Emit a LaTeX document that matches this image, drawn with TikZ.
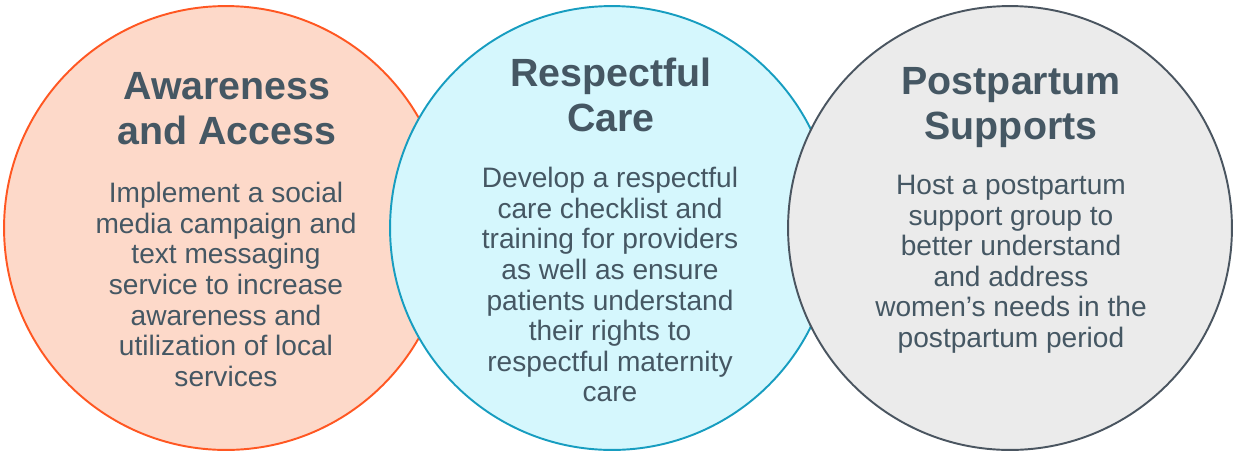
\documentclass[tikz,border=0pt]{standalone}
\usepackage{fontspec}
\setmainfont{Liberation Sans}
\usetikzlibrary{positioning}
\definecolor{c1}{RGB}{255,87,34}
\definecolor{c1bg}{RGB}{253,217,201}
\definecolor{c2}{RGB}{23,157,192}
\definecolor{c2bg}{RGB}{213,247,253}
\definecolor{c3}{RGB}{74,85,96}
\definecolor{c3bg}{RGB}{235,235,235}
\definecolor{ink}{RGB}{69,87,99}

\begin{document}
\begin{tikzpicture}[x=0.02cm, y=-0.02cm,
    disc/.style={circle, draw, line width=1.1pt, minimum size=8.88cm, inner sep=0pt},
    head/.style={anchor=north, align=center, inner sep=0pt, text=ink, font=\fontsize{22.4}{25.5}\selectfont\bfseries},
    body/.style={anchor=north, align=center, inner sep=0pt, text=ink, font=\fontsize{16}{17.4}\selectfont}
]
    \useasboundingbox (0,0) rectangle (1235,454);

    % Circles, drawn left to right so each overlaps the previous one
    \node[disc, draw=c1, fill=c1bg] (aware) at (226,228) {};
    \node[disc, draw=c2, fill=c2bg] (care) at (612,228) {};
    \node[disc, draw=c3, fill=c3bg] (post) at (1010,228) {};

    % Awareness and Access
    \node[head] (awareT) at (227,72) {Awareness\\and Access};
    \node[body] (awareB) at (226,182) {Implement a social\\media campaign and\\text messaging\\service to increase\\awareness and\\utilization of local\\services};

    % Respectful Care
    \node[head] (careT) at (611,58) {Respectful\\Care};
    \node[body] (careB) at (610,167) {Develop a respectful\\care checklist and\\training for providers\\as well as ensure\\patients understand\\their rights to\\respectful maternity\\care};

    % Postpartum Supports
    \node[head] (postT) at (1011,67) {Postpartum\\Supports};
    \node[body] (postB) at (1011,175) {Host a postpartum\\support group to\\better understand\\and address\\women’s needs in the\\postpartum period};
\end{tikzpicture}
\end{document}
